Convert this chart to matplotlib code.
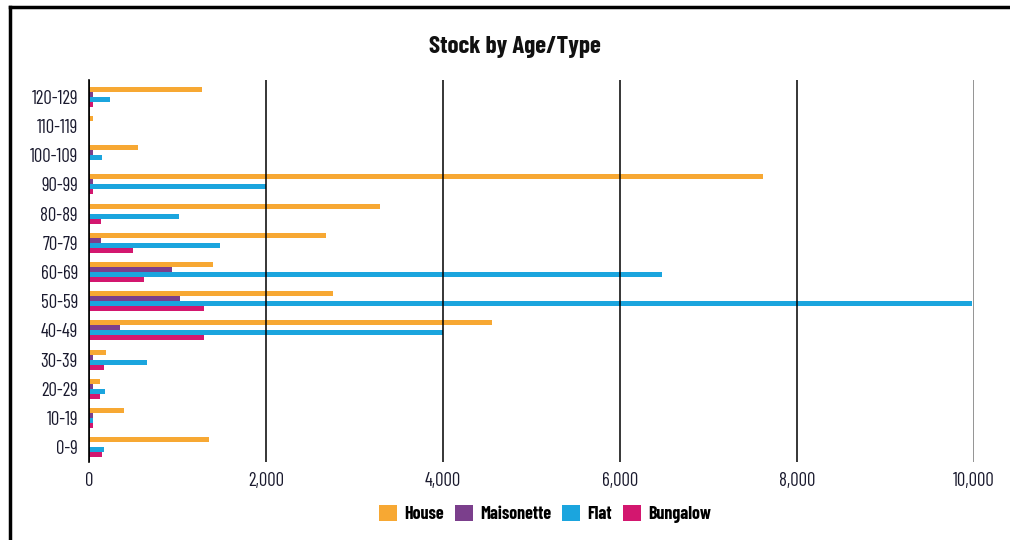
import numpy as np
import matplotlib
matplotlib.use("Agg")
import matplotlib.pyplot as plt
from matplotlib.lines import Line2D
from matplotlib.patches import Patch
from matplotlib.ticker import FuncFormatter

# data
ages = ["0-9", "10-19", "20-29", "30-39", "40-49", "50-59", "60-69",
        "70-79", "80-89", "90-99", "100-109", "110-119", "120-129"]
house = [1360, 400, 120, 190, 4555, 2760, 1400, 2680, 3290, 7615, 550, 40, 1280]
maisonette = [0, 40, 40, 50, 355, 1025, 940, 140, 0, 40, 40, 0, 40]
flat = [170, 40, 180, 655, 4000, 9975, 6475, 1475, 1020, 2000, 150, 0, 240]
bungalow = [145, 40, 120, 175, 1295, 1295, 625, 495, 140, 40, 0, 0, 50]

series = ["House", "Maisonette", "Flat", "Bungalow"]
colors = ["#F7A833", "#7B3F8C", "#1BA5DE", "#D3176F"]

plt.rcParams['font.family'] = ['Barlow Condensed', 'DejaVu Sans']

W, H = 1010, 540
fig = plt.figure(figsize=(W / 100, H / 100), dpi=100)
ax = fig.add_axes([89 / W, 1 - 462 / H, (974 - 89) / W, (462 - 80) / H])

y = np.arange(len(ages))
h = 0.171
offsets = [1.5 * h, 0.5 * h, -0.5 * h, -1.5 * h]
for vals, name, col, off in zip([house, maisonette, flat, bungalow], series, colors, offsets):
    ax.barh(y + off, vals, height=h, color=col, label=name, zorder=2)

ax.set_xlim(0, 10000)
ax.set_ylim(-0.51, 12.58)
ax.set_xticks(np.arange(0, 10001, 2000))
ax.xaxis.set_major_formatter(FuncFormatter(lambda v, p: f"{int(v):,}"))
ax.set_yticks(y)
ax.set_yticklabels(ages)
ax.tick_params(axis='both', length=0, labelsize=13.5, colors='#1a1a2e')
ax.tick_params(axis='x', pad=7)
ax.tick_params(axis='y', pad=8)

for s in ['top', 'right', 'bottom']:
    ax.spines[s].set_visible(False)
ax.spines['left'].set_color('black')
ax.spines['left'].set_linewidth(1.2)
ax.spines['left'].set_zorder(3)

ax.xaxis.grid(True, color='black', linewidth=1.1, zorder=3)
ax.set_axisbelow(False)
ax.get_xgridlines()[-1].set_color('#777777')

fig.text(515 / W, 1 - 47 / H, "Stock by Age/Type", ha='center', va='center',
         fontsize=18, fontweight='bold', color='#111111')

handles = [Patch(facecolor=c, edgecolor='none', label=n) for n, c in zip(series, colors)]
fig.legend(handles=handles, loc='center', bbox_to_anchor=(545 / W, 1 - 514 / H),
           ncol=4, frameon=False, prop={'size': 13, 'weight': 'bold'},
           handlelength=1.0, handleheight=1.0, columnspacing=0.6, handletextpad=0.4)

# outer frame: top and left edges only
fig.add_artist(Line2D([10 / W, 1], [1 - 7 / H, 1 - 7 / H], color='black', linewidth=2.5,
                      transform=fig.transFigure))
fig.add_artist(Line2D([10 / W, 10 / W], [0, 1 - 7 / H], color='black', linewidth=2.5,
                      transform=fig.transFigure))

fig.savefig("out.png", dpi=100)
